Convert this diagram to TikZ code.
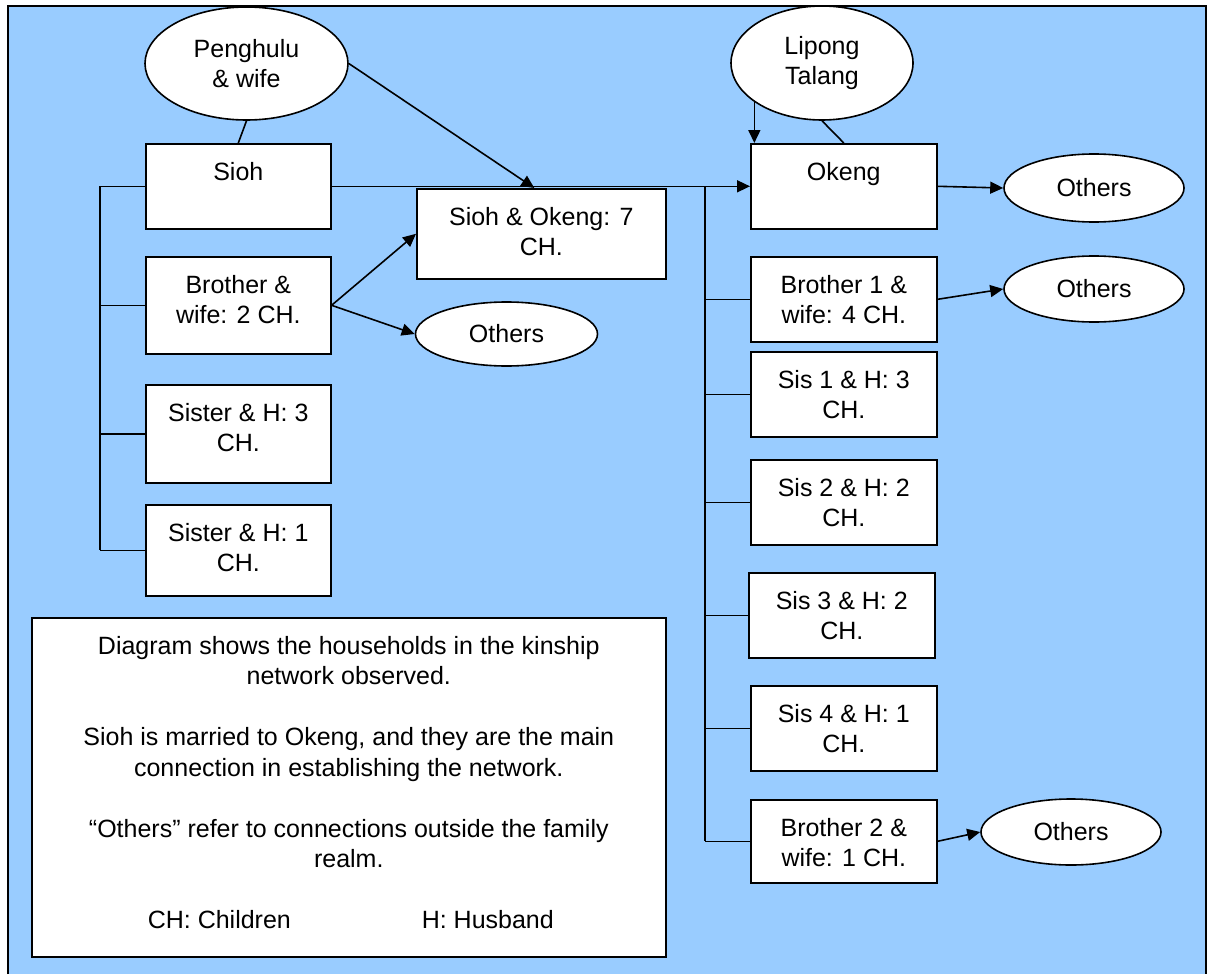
\documentclass[tikz,border=0pt]{standalone}
\usepackage{fontspec}
\setmainfont{Liberation Sans}
\usetikzlibrary{shapes.geometric,arrows.meta}
\definecolor{skyfill}{HTML}{99CCFF}
\newlength{\px}\setlength{\px}{0.5pt}
% box contents: width, height (in pixels of the page), text set from the top
\newcommand{\boxtext}[3]{\parbox[c][#2\px][t]{#1\px}{\vspace*{7.5pt}\centering\strut #3\par}}

\begin{document}
\begin{tikzpicture}[x=0.5pt,y=-0.5pt,font=\fontsize{12.5}{15.25}\selectfont,
  hbox/.style={draw,fill=white,line width=0.8pt,inner sep=0pt,anchor=north west},
  oval/.style={draw,fill=white,ellipse,line width=0.8pt,inner sep=0pt,align=center},
  link/.style={line width=0.8pt},
  arr/.style={line width=0.8pt,-{Triangle[length=6.5pt,width=6pt]}}]
\useasboundingbox (0,0) rectangle (1209,974);
% --- the page ground ---
\fill[skyfill] (8,6) rectangle (1206,974);
\draw[line width=0.8pt] (8,974) -- (8,6) -- (1206,6) -- (1206,974);
% --- Sioh's family ---
\node[oval,minimum width=101.5pt,minimum height=56.5pt] (peng) at (246.5,63.5) {Penghulu\\\& wife};
\node[hbox] (sioh) at (145,143) {\boxtext{185}{85}{Sioh}};
\node[hbox] (bro) at (145,256) {\boxtext{185}{97}{Brother \&\\wife: 2 CH.}};
\node[hbox] (sis3) at (145,384) {\boxtext{185}{98}{Sister \& H: 3\\CH.}};
\node[hbox] (sis1) at (145,504) {\boxtext{185}{91}{Sister \& H: 1\\CH.}};
\node[hbox] (sk) at (416,188) {\boxtext{249}{90}{Sioh \& Okeng: 7\\CH.}};
\node[oval,minimum width=91pt,minimum height=32pt] (othL) at (506.5,334) {Others};
% --- Okeng's family ---
\node[oval,minimum width=91pt,minimum height=57pt] (lip) at (822,63) {Lipong\\Talang};
\node[hbox] (ok) at (750,143) {\boxtext{186}{85}{Okeng}};
\foreach \n/\x/\y/\h/\t in {bro1/750/256/85/{Brother 1 \&\\wife: 4 CH.},
                            s1/750/351/85/{Sis 1 \& H: 3\\CH.},
                            s2/750/459/85/{Sis 2 \& H: 2\\CH.},
                            s3/748/572/85/{Sis 3 \& H: 2\\CH.},
                            s4/750/685/85/{Sis 4 \& H: 1\\CH.},
                            bro2/750/799/83/{Brother 2 \&\\wife: 1 CH.}}
  \node[hbox] (\n) at (\x,\y) {\boxtext{186}{\h}{\t}};
\node[oval,minimum width=90pt,minimum height=34pt] (oth1) at (1094,188) {Others};
\node[oval,minimum width=90pt,minimum height=33pt] (oth2) at (1094,289) {Others};
\node[oval,minimum width=90pt,minimum height=33pt] (oth3) at (1071,832) {Others};
% --- the note ---
\node[hbox] (note) at (31,617) {\boxtext{634}{339}{Diagram shows the households in the kinship\\
  network observed.\\[15.25pt]
  Sioh is married to Okeng, and they are the main\\
  connection in establishing the network.\\[15.25pt]
  “Others” refer to connections outside the family\\
  realm.\\[15.25pt]
  \makebox[634\px][l]{\hspace*{116\px}\makebox[274\px][l]{CH: Children}H: Husband}}};
% --- links ---
\draw[link] (peng.south) -- (sioh.north);
\draw[arr] (peng.east) -- ([xshift=-3.5pt]sk.north);
\draw[arr] (sioh.east) -- (ok.west);
\coordinate (lt) at (100,186);
\draw[link] (lt) -- (lt |- sis1.west);
\foreach \n in {sioh,bro,sis3,sis1} \draw[link] (\n.west) -- (\n.west -| lt);
\draw[arr] (bro.east) -- (sk.west);
\draw[arr] (bro.east) -- (othL.west);
\draw[arr] (lip.210) -- (lip.210 |- ok.north);
\draw[link] (lip.south) -- (ok.north);
\coordinate (rt) at (705,186);
\draw[link] (rt) -- (rt |- bro2.west);
\foreach \n in {bro1,s1,s2,s3,s4,bro2} \draw[link] (\n.west) -- (\n.west -| rt);
\draw[arr] (ok.east) -- (oth1.west);
\draw[arr] (bro1.east) -- (oth2.west);
\draw[arr] (bro2.east) -- (oth3.west);
\end{tikzpicture}
\end{document}
